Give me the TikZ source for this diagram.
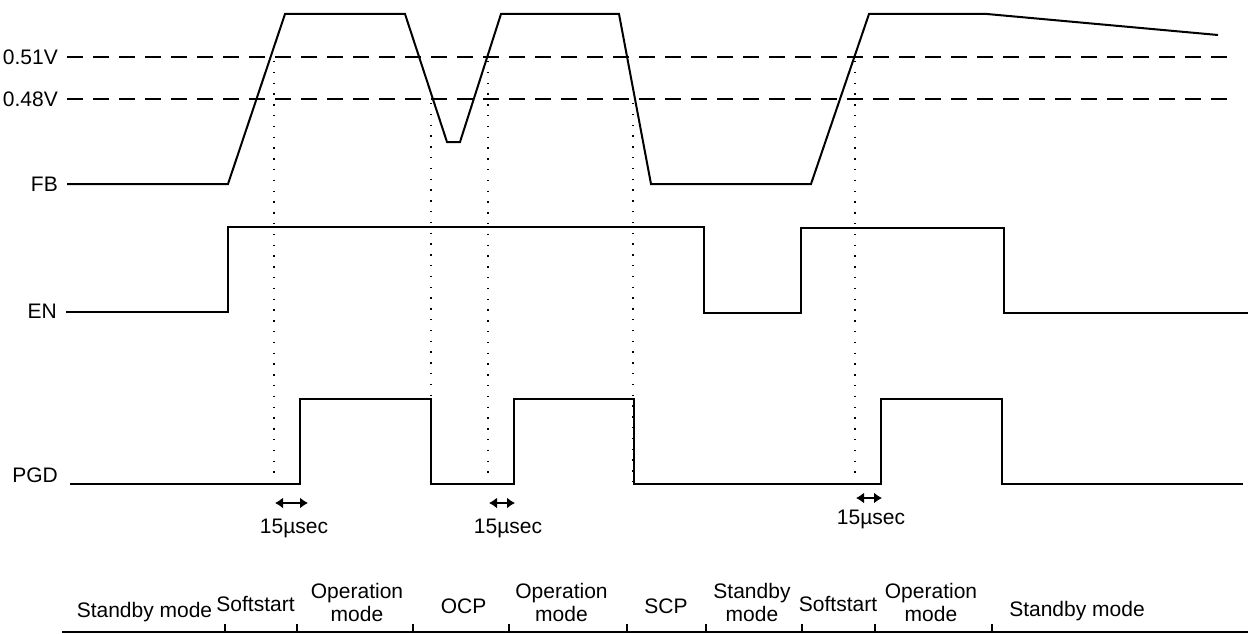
\documentclass[tikz,border=0pt]{standalone}
\usepackage{fontspec}
\setmainfont{Liberation Sans}
\usetikzlibrary{arrows.meta}
\begin{document}
\begin{tikzpicture}[x=1pt,y=-1pt,
  lbl/.style={font=\fontsize{21}{23}\selectfont, inner sep=0pt, align=center},
  wave/.style={line width=2pt, line join=miter},
  thr/.style={line width=2pt, dash pattern=on 16pt off 10pt},
  guide/.style={line width=1.4pt, dash pattern=on 1.4pt off 9.4pt},
  dimarrow/.style={line width=2.2pt, {Latex[length=8pt,width=11pt]}-{Latex[length=8pt,width=11pt]}},
  axisline/.style={line width=1.5pt},
]
\useasboundingbox (0,0) rectangle (1248,634);

% signal labels
\node[lbl, anchor=east] (l51) at (58,57) {0.51V};
\node[lbl, anchor=east] (l48) at (58,99.5) {0.48V};
\node[lbl, anchor=east] (lfb) at (58,184) {FB};
\node[lbl, anchor=east] (len) at (57,311) {EN};
\node[lbl, anchor=east] (lpgd) at (58,475) {PGD};

% threshold lines
\coordinate (t51a) at (67,57);  \coordinate (t51b) at (1232,57);
\coordinate (t48a) at (67,99);  \coordinate (t48b) at (1232,99);
\draw[thr] (t51a) -- (t51b);
\draw[thr] (t48a) -- (t48b);

% FB waveform
\draw[wave] (67,184) -- (228,184) -- (285,14) -- (405,14) -- (447,142) -- (460,142)
  -- (501,14) -- (619,14) -- (651,184) -- (811,184) -- (869,14) -- (987,14) -- (1218,35);

% EN waveform
\draw[wave, line width=1.8pt] (66,312) -- (228,312) -- (228,227) -- (704,227) -- (704,313)
  -- (801,313) -- (801,228) -- (1004,228) -- (1004,313) -- (1248,313);

% PGD waveform
\draw[wave, line width=1.8pt] (70,484) -- (300,484) -- (300,399) -- (431,399) -- (431,484)
  -- (514,484) -- (514,399) -- (634,399) -- (634,484) -- (881,484) -- (881,399)
  -- (1002,399) -- (1002,484) -- (1243,484);

% dotted guides
\draw[guide] (274,61) -- (274,474);
\draw[guide] (431,103) -- (431,484);
\draw[guide] (488,61) -- (488,474);
\draw[guide] (633,103) -- (633,484);
\draw[guide] (855,61) -- (855,474);

% 15usec delays
\coordinate (d1a) at (275,503); \coordinate (d1b) at (308,503);
\coordinate (d2a) at (489,503); \coordinate (d2b) at (515,503);
\coordinate (d3a) at (856,498); \coordinate (d3b) at (882,498);
\draw[dimarrow] (d1a) -- (d1b);
\draw[dimarrow] (d2a) -- (d2b);
\draw[dimarrow] (d3a) -- (d3b);
\node[lbl, anchor=base] (u1) at (294,533) {15µsec};
\node[lbl, anchor=base] (u2) at (508,533) {15µsec};
\node[lbl, anchor=base] (u3) at (871,524) {15µsec};

% mode timeline
\coordinate (ax0) at (62,632); \coordinate (ax1) at (1248,632);
\draw[axisline] (ax0) -- (ax1);
\foreach \x in {225,297,413,509,627,706,802,875,992}
  \draw[axisline] (\x,624) -- (\x,632);

\node[lbl, anchor=base] (m1) at (144.5,617) {Standby mode};
\node[lbl, anchor=base] (m2) at (255.5,611) {Softstart};
\node[lbl, anchor=base] (m3) at (357,621) {Operation\\mode};
\node[lbl, anchor=base] (m4) at (463.5,613) {OCP};
\node[lbl, anchor=base] (m5) at (561.5,621) {Operation\\mode};
\node[lbl, anchor=base] (m6) at (666,613) {SCP};
\node[lbl, anchor=base] (m7) at (752,621) {Standby\\mode};
\node[lbl, anchor=base] (m8) at (838,611) {Softstart};
\node[lbl, anchor=base] (m9) at (931,621) {Operation\\mode};
\node[lbl, anchor=base] (m10) at (1077,616) {Standby mode};
\end{tikzpicture}
\end{document}
